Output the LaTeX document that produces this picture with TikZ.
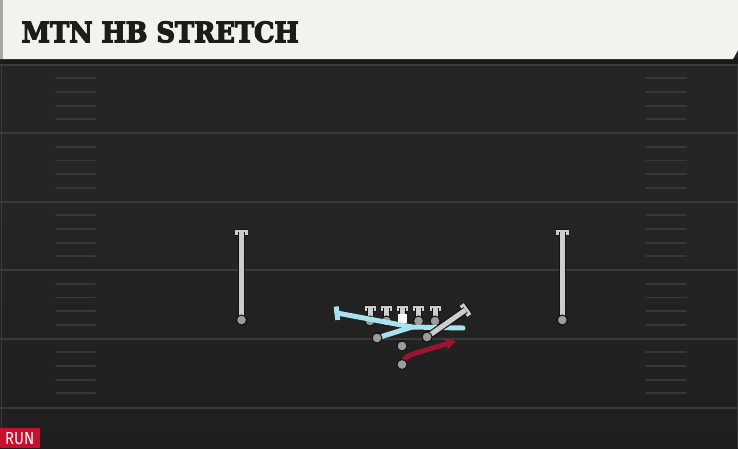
\documentclass[tikz,border=0pt]{standalone}
\usepackage{fontspec}
\usetikzlibrary{arrows.meta,calc}
\newfontfamily\titlefont{DejaVu Serif}
\newfontfamily\runfont{Fira Sans}
\definecolor{fieldbg}{HTML}{252525}
\definecolor{fieldbot}{HTML}{1F1F1F}
\definecolor{yardc}{HTML}{3A3A3A}
\definecolor{hashc}{HTML}{383838}
\definecolor{headbg}{HTML}{F4F2EC}
\definecolor{headedge}{HTML}{A8A8A8}
\definecolor{greyroute}{HTML}{CDCDCD}
\definecolor{dotc}{HTML}{9C9C9C}
\definecolor{outl}{HTML}{121212}
\definecolor{blueroute}{HTML}{A8E2EE}
\definecolor{redroute}{HTML}{9E1430}
\definecolor{runred}{HTML}{C8102E}
\definecolor{titlec}{HTML}{1C1C1C}
\tikzset{
  yard/.style={draw=yardc, line width=2pt},
  hashm/.style={draw=hashc, line width=1.8pt, line cap=round},
  groute/.style={draw=greyroute, line width=5pt, preaction={draw=outl, line width=7pt}},
  gbar/.style={draw=greyroute, line width=5pt, preaction={draw=outl, line width=7pt}},
  broute/.style={draw=blueroute, line width=5pt, line cap=round, line join=round},
  rroute/.style={draw=redroute, line width=5pt, line join=round},
  player/.style={circle, fill=dotc, draw=outl, line width=1pt, minimum size=10pt, inner sep=0pt},
  centersq/.style={rectangle, fill=white, draw=none, minimum size=9pt, inner sep=0pt},
}
\begin{document}
\begin{tikzpicture}[x=1pt,y=-1pt]
\useasboundingbox (0,0) rectangle (738,448);
% field
\fill[fieldbg] (0,0) rectangle (738,448);
\shade[top color=fieldbg, bottom color=fieldbot] (0,200) rectangle (738,448);
% yard lines
\foreach \y in {64.5,133,201.5,270,338.5,407.5}{
  \draw[yard] (0,\y) -- (738,\y);
}
% hash marks
\foreach \y in {64.5,133,201.5,270,338.5}{
  \foreach \k in {1,2,3,4}{
    \draw[hashm] (56,\y+13.7*\k) -- (95,\y+13.7*\k);
    \draw[hashm] (646,\y+13.7*\k) -- (686,\y+13.7*\k);
  }
}
% side lines
\draw[draw=yardc, line width=1.5pt] (1.5,60) -- (1.5,448);
\draw[draw=yardc, line width=1pt] (737.5,60) -- (737.5,448);
% header
\fill[black!90] (0,58) rectangle (738,64);
\fill[headbg] (0,0) -- (738,0) -- (738,50) -- (733,59) -- (0,59) -- cycle;
\fill[headedge] (0,0) rectangle (3,59);
\node[anchor=south west, inner sep=0pt, text=titlec] (title) at (21.5,42.8)
  {\resizebox{277pt}{20.8pt}{\titlefont\bfseries\special{pdf:literal direct 2 Tr 0.45 w}MTN HB STRETCH\special{pdf:literal direct 0 Tr}}};
% RUN tag
\fill[runred] (0,428) rectangle (40,448);
\node[anchor=south west, inner sep=0pt, text=white] (run) at (5,445)
  {\resizebox{29pt}{12pt}{\runfont RUN}};

% ---- players ----
% wide receivers
\coordinate (lwrtop) at (241.5,232);
\coordinate (rwrtop) at (562.3,232);
\node[player] (lwr) at (241.5,320) {};
\node[player] (rwr) at (562.3,320) {};
\draw[groute] (lwr.center) -- (lwrtop);
\draw[gbar] ($(lwrtop)+(-6.5,0)$) coordinate (lwrb1) -- ($(lwrtop)+(6.5,0)$) coordinate (lwrb2);
\draw[groute, preaction={draw=none}] (lwr.center) -- (lwrtop);
\node[player] (lwr2) at (241.5,320) {};
\draw[groute] (rwr.center) -- (rwrtop);
\draw[gbar] ($(rwrtop)+(-6.5,0)$) coordinate (rwrb1) -- ($(rwrtop)+(6.5,0)$) coordinate (rwrb2);
\draw[groute, preaction={draw=none}] (rwr.center) -- (rwrtop);
\node[player] (rwr2) at (562.3,320) {};

% offensive line
\foreach \n/\x in {lt/370,lg/386.5,rg/418.5,rt/435}{
  \node[player] (\n) at (\x,321) {};
  \coordinate (\n top) at (\x,308);
  \draw[groute] (\n.center) -- (\n top);
  \draw[gbar] ($(\n top)+(-5.5,0)$) -- ($(\n top)+(5.5,0)$);
  \draw[groute, preaction={draw=none}] (\n.center) -- (\n top);
  \node[player] (\n2) at (\x,321) {};
}
\node[centersq] (c) at (402,318.5) {};
\coordinate (ctop) at (402,308);
\draw[groute] (c.north) -- (ctop);
\draw[gbar] ($(ctop)+(-5.5,0)$) -- ($(ctop)+(5.5,0)$);
\draw[groute, preaction={draw=none}] (c.center) -- (ctop);
\node[centersq] (c2) at (402,318.5) {};

% blue routes
\coordinate (bend) at (337,313);
\coordinate (bmerge) at (412,327);
\coordinate (bfar) at (463,328);
\node[player] (te) at (377,338) {};
\draw[broute] (bend) -- (bmerge) -- (bfar);
\draw[broute] (te.center) -- (bmerge);
\draw[broute, line cap=butt] (336.2,306.5) coordinate (bb1) -- (337.8,320) coordinate (bb2);
\node[player] (te2) at (377,338) {};

% grey block
\node[player] (fb) at (427,337) {};
\coordinate (fbend) at (465.5,310);
\draw[groute] (fb.center) -- (fbend);
\draw[gbar] ($(fbend)+(-3.8,-5.4)$) -- ($(fbend)+(3.8,5.4)$);
\draw[groute, preaction={draw=none}] (fb.center) -- (fbend);
\node[player] (fb2) at (427,337) {};

% QB
\node[player] (qb) at (402,346) {};

% RB with red run route
\node[player] (rb) at (402,364.5) {};
\coordinate (rbmid) at (416,353);
\coordinate (rbend) at (456,341);
\draw[rroute, -{Stealth[length=11pt,width=12pt,inset=3pt]}] (rb.center) .. controls (405,357) .. (rbmid) -- (rbend);
\node[player] (rb2) at (402,364.5) {};
\end{tikzpicture}
\end{document}
